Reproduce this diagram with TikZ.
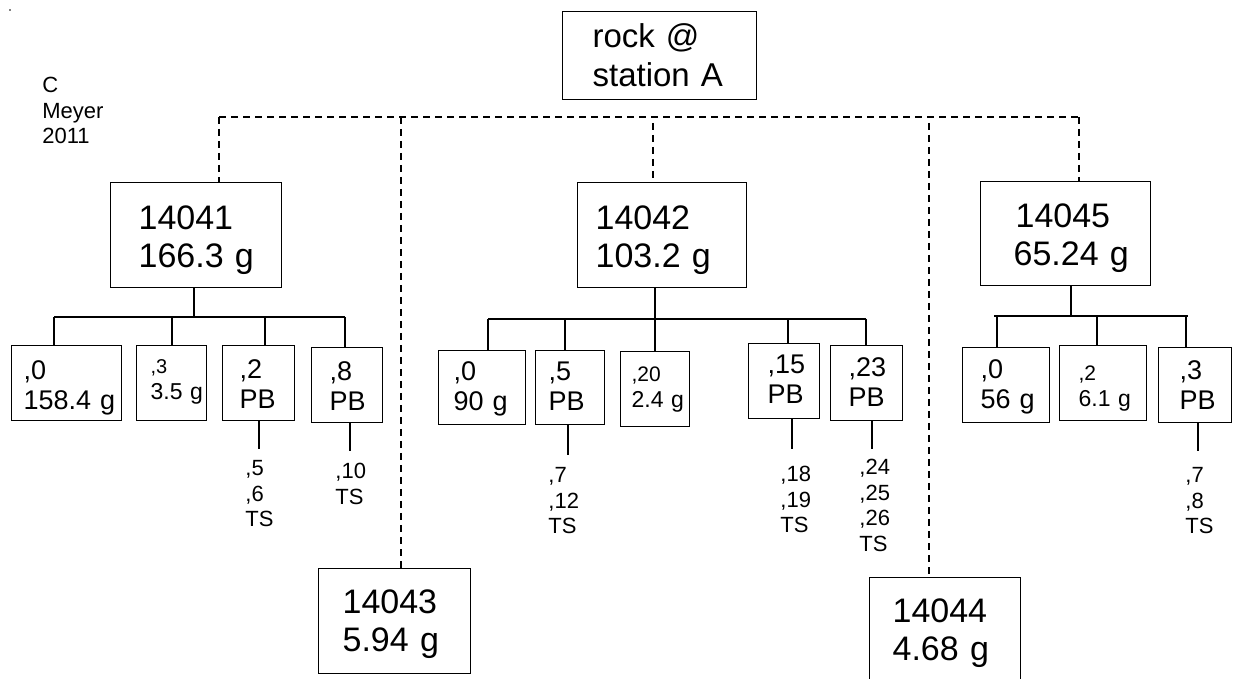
\documentclass[tikz,border=0pt]{standalone}
\usepackage{fontspec}
\setmainfont{Liberation Sans}
\begin{document}
\begin{tikzpicture}[x=0.5pt,y=-0.5pt]
\tikzset{
 box/.style={draw, line width=0.6pt, anchor=north west, align=left, inner ysep=0pt},
 ln/.style={line width=0.6pt},
 dsh/.style={line width=0.55pt, dash pattern=on 3.5pt off 2.5pt},
 note/.style={anchor=north west, align=left, inner sep=0pt, font=\fontsize{11}{12.75}\selectfont},
 big/.style={font=\fontsize{17}{19}\selectfont},
 mid/.style={font=\fontsize{13.5}{15}\selectfont},
 sml/.style={font=\fontsize{11.5}{13}\selectfont},
}
\useasboundingbox (0,0) rectangle (1233,679);
\clip (0,0) rectangle (1233,679);
\fill (10,10) circle (0.4pt);

% author
\node[anchor=north west, align=left, inner sep=0pt, font=\fontsize{11}{12.75}\selectfont] (auth) at (42,77) {C\\Meyer\\2011};

% root
\node[box, font=\fontsize{16.5}{19.5}\selectfont, inner xsep=15pt, text width=67pt, text height=18pt, text depth=26pt] (root) at (562,11) {rock~@\\station~A};

% level 1
\node[box, big, inner xsep=14pt, text width=57.5pt, text height=23.5pt, text depth=29pt] (b41) at (110,182) {14041\\166.3~g};
\node[box, big, inner xsep=9pt, text width=66.5pt, text height=23.5pt, text depth=29pt] (b42) at (577,182) {14042\\103.2~g};
\node[box, big, inner xsep=16.5pt, text width=52pt, text height=23pt, text depth=29pt] (b45) at (980,181) {\hspace{1pt}14045\\65.24~g};
\node[box, big, inner xsep=12pt, text width=52pt, text height=22.5pt, text depth=30pt] (b43) at (318,568) {14043\\5.94~g};
\node[box, big, inner xsep=11.5pt, text width=52.5pt, text height=22.5pt, text depth=31.5pt] (b44) at (869,577) {14044\\4.68~g};

% dashed bus
\coordinate (d1) at (219,117);
\coordinate (d2) at (401,117);
\coordinate (d3) at (653,123);
\coordinate (d4) at (929,123);
\coordinate (d5) at (1079,117);
\draw[dsh] (d1) -- (d5);
\draw[dsh] (d1) -- (d1 |- b41.north);
\draw[dsh] (d2) -- (d2 |- b43.north);
\draw[dsh] (d3) -- (d3 |- b42.north);
\draw[dsh] (d4) -- (d4 |- b44.north);
\draw[dsh] (d5) -- (d5 |- b45.north);

% children of 14041
\node[box, mid, inner xsep=6pt, text width=43pt, text height=17pt, text depth=20.5pt] (c10) at (11,345) {,0\\158.4~g};
\node[box, sml, inner xsep=7pt, text width=21pt, text height=14pt, text depth=23.5pt] (c13) at (136,345) {{\fontsize{10}{13}\selectfont ,3}\\3.5~g};
\node[box, mid, inner xsep=8.5pt, text width=19pt, text height=16.5pt, text depth=21pt] (c12) at (222,345) {,2\\PB};
\node[box, mid, inner xsep=9pt, text width=17.5pt, text height=16.5pt, text depth=21pt] (c18) at (311,347) {,8\\PB};

\coordinate (j1) at (194,317);
\coordinate (k11) at (54,317);
\coordinate (k12) at (172,317);
\coordinate (k13) at (265,317);
\coordinate (k14) at (345,317);
\draw[ln] (b41.south -| j1) -- (j1);
\draw[ln] (k11) -- (k14);
\draw[ln] (k11) -- (k11 |- c10.north);
\draw[ln] (k12) -- (k12 |- c13.north);
\draw[ln] (k13) -- (k13 |- c12.north);
\draw[ln] (k14) -- (k14 |- c18.north);

% children of 14042
\node[box, mid, inner xsep=7.5pt, text width=28.5pt, text height=15pt, text depth=22pt] (c20) at (438,350) {,0\\90~g};
\node[box, mid, inner xsep=6.5pt, text width=21.5pt, text height=15pt, text depth=22pt] (c25) at (535,350) {,5\\PB};
\node[box, sml, inner xsep=5.5pt, text width=23.5pt, text height=15pt, text depth=22.5pt] (c220) at (620,351) {{\fontsize{10.5}{13}\selectfont ,20}\\2.4~g};
\node[box, mid, inner xsep=9.5pt, text width=16.5pt, text height=15pt, text depth=22.5pt] (c215) at (748,343) {,15\\PB};
\node[box, mid, inner xsep=9pt, text width=18pt, text height=15.5pt, text depth=22pt] (c223) at (830,345) {,23\\PB};

\coordinate (j2) at (655,319);
\coordinate (k21) at (488,319);
\coordinate (k22) at (565,319);
\coordinate (k23) at (655,319);
\coordinate (k24) at (788,319);
\coordinate (k25) at (866,319);
\draw[ln] (b42.south -| j2) -- (j2);
\draw[ln] (k21) -- (k25);
\draw[ln] (k21) -- (k21 |- c20.north);
\draw[ln] (k22) -- (k22 |- c25.north);
\draw[ln] (k23) -- (k23 |- c220.north);
\draw[ln] (k24) -- (k24 |- c215.north);
\draw[ln] (k25) -- (k25 |- c223.north);

% children of 14045
\node[box, mid, inner xsep=9pt, text width=25.5pt, text height=15.5pt, text depth=22pt] (c50) at (962,347) {,0\\56~g};
\node[box, sml, inner xsep=9.5pt, text width=24.5pt, text height=17.5pt, text depth=20pt] (c52) at (1059,345) {{\fontsize{10.5}{13}\selectfont ,2}\\6.1~g};
\node[box, mid, inner xsep=10.5pt, text width=15.5pt, text height=16pt, text depth=21.5pt] (c53) at (1158,347) {,3\\PB};

\coordinate (j3) at (1071,316);
\coordinate (k30) at (994,316);
\coordinate (k31) at (997,316);
\coordinate (k32) at (1097,316);
\coordinate (k33) at (1186,316);
\coordinate (k34) at (1188,316);
\draw[ln] (b45.south -| j3) -- (j3);
\draw[ln] (k30) -- (k34);
\draw[ln] (k31) -- (k31 |- c50.north);
\draw[ln] (k32) -- (k32 |- c52.north);
\draw[ln] (k33) -- (k33 |- c53.north);

% thin-section notes
\coordinate (s12) at (259,449);
\coordinate (s18) at (350,451);
\coordinate (s25) at (568,455);
\coordinate (s215) at (792,449);
\coordinate (s223) at (872,449);
\coordinate (s53) at (1198,451);
\draw[ln] (c12.south -| s12) -- (s12);
\draw[ln] (c18.south -| s18) -- (s18);
\draw[ln] (c25.south -| s25) -- (s25);
\draw[ln] (c215.south -| s215) -- (s215);
\draw[ln] (c223.south -| s223) -- (s223);
\draw[ln] (c53.south -| s53) -- (s53);

\node[note] (n12) at (245,460) {,5\\,6\\TS};
\node[note] (n18) at (335,463) {,10\\TS};
\node[note] (n25) at (548,467) {,7\\,12\\TS};
\node[note] (n215) at (780,466) {,18\\,19\\TS};
\node[note] (n223) at (859,459) {,24\\,25\\,26\\TS};
\node[note] (n53) at (1185,467) {,7\\,8\\TS};
\end{tikzpicture}
\end{document}
